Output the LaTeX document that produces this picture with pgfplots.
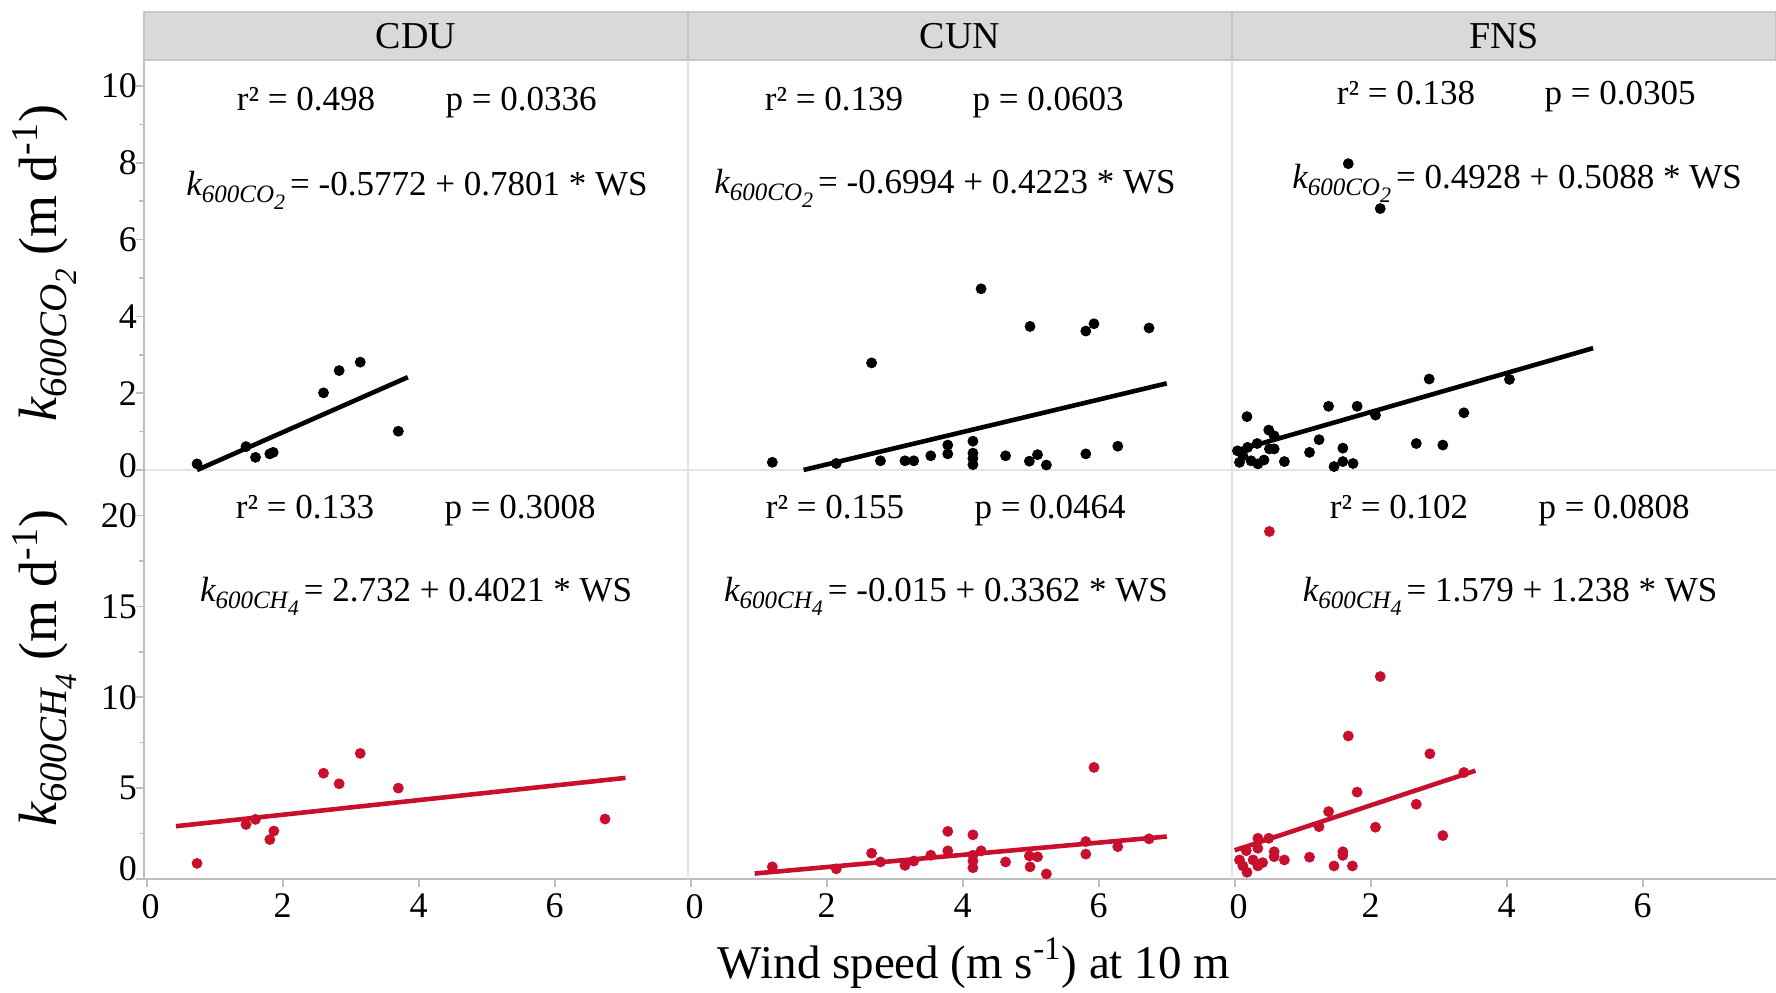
\documentclass[border=0pt]{standalone}
\usepackage{fontspec}
\setmainfont{Liberation Serif}
\usepackage{pgfplots}
\pgfplotsset{compat=1.18}

\definecolor{ptred}{RGB}{200,16,46}
\definecolor{stripfill}{RGB}{217,217,217}
\definecolor{stripedge}{RGB}{198,198,198}
\definecolor{sepgray}{RGB}{228,228,228}
\definecolor{axgray}{RGB}{190,190,190}

\newcommand{\fs}[1]{\fontsize{#1}{#1}\selectfont}
% italic k with a two-level subscript
\newcommand{\kname}[7]{{\fs{#1}\itshape k}\raisebox{-#4}{\fs{#2}\itshape #6}\raisebox{-#5}{\fs{#3}\itshape #7}}
\newcommand{\keq}[2]{\kname{17.5}{12.5}{11}{3.5pt}{7pt}{#1}{#2}}
\newcommand{\klab}[2]{\kname{27}{19.5}{15.5}{5pt}{10pt}{#1}{#2}}

\pgfplotsset{
  panel/.style={
    scale only axis, width=272pt,
    xmin=-0.04, xmax=7.96,
    axis x line*=bottom, axis y line*=left,
    axis line style={draw=sepgray, line width=1pt},
    tick align=outside,
    major tick length=4pt, minor tick length=2.5pt,
    tick style={draw=axgray, line width=0.8pt},
    ticklabel style={font=\fs{18}},
    yticklabel style={xshift=4pt},
    /pgf/number format/assume math mode=true,
    xtick=\empty, ytick=\empty,
    clip=false,
  },
  toprow/.style={height=205pt, ymin=0, ymax=10.68},
  botrow/.style={height=204.5pt, ymin=0, ymax=22.5,
    xtick={2,4,6}, extra x ticks={0},
    extra x tick style={xticklabel style={xshift=2pt}},
    x axis line style={draw=axgray}},
  firsttop/.style={ytick={2,4,6,8,10}, minor ytick={1,3,5,7,9},
    extra y ticks={0}, extra y tick style={yticklabel style={yshift=2pt}},
    y axis line style={draw=axgray}},
  firstbot/.style={ytick={5,10,15,20}, minor ytick={2.5,7.5,12.5,17.5},
    extra y ticks={0}, extra y tick style={yticklabel style={yshift=5pt}},
    y axis line style={draw=axgray}},
  co2/.style={only marks, mark=*, mark size=2.5pt, color=black},
  ch4/.style={only marks, mark=*, mark size=2.5pt, color=ptred},
  co2fit/.style={black, line width=2.3pt, no marks},
  ch4fit/.style={ptred, line width=2.3pt, no marks},
}

\begin{document}
\begin{tikzpicture}
\useasboundingbox (0pt,0pt) rectangle (888pt,-496pt);

% ---------- CO2, top row ----------
\begin{axis}[panel, toprow, firsttop, at={(72pt,-30pt)}, anchor=north west]
\addplot[co2] coordinates {(0.74,0.16) (1.46,0.61) (1.60,0.33) (1.81,0.42) (1.86,0.46)
  (2.60,2.01) (2.83,2.59) (3.14,2.81) (3.70,1.01)};
\addplot[co2fit] coordinates {(0.74,0.0) (3.84,2.418)};
\end{axis}

\begin{axis}[panel, toprow, at={(344pt,-30pt)}, anchor=north west]
\addplot[co2] coordinates {(1.20,0.20) (2.14,0.17) (2.66,2.79) (2.79,0.24) (3.15,0.24)
  (3.28,0.24) (3.53,0.37) (3.78,0.65) (3.78,0.42) (4.15,0.75) (4.15,0.44) (4.15,0.30)
  (4.15,0.14) (4.27,4.72) (4.63,0.37) (4.99,3.74) (4.98,0.23) (5.10,0.40) (5.23,0.13)
  (5.81,3.62) (5.93,3.81) (5.81,0.42) (6.28,0.62) (6.74,3.70)};
\addplot[co2fit] coordinates {(1.66,0.0016) (7.0,2.257)};
\end{axis}

\begin{axis}[panel, toprow, at={(616pt,-30pt)}, anchor=north west]
\addplot[co2] coordinates {(0.18,1.39) (0.50,1.04) (0.58,0.89) (0.33,0.69) (0.19,0.59)
  (0.04,0.50) (0.12,0.37) (0.07,0.20) (0.24,0.24) (0.34,0.16) (0.43,0.26) (0.51,0.55)
  (0.58,0.55) (0.73,0.22) (1.10,0.46) (1.24,0.79) (1.38,1.66) (1.46,0.09) (1.59,0.57)
  (1.59,0.22) (1.74,0.17) (1.80,1.66) (2.07,1.43) (2.67,0.69) (2.86,2.37) (3.06,0.65)
  (3.37,1.49) (1.67,7.98) (2.14,6.81) (4.04,2.36)};
\addplot[co2fit] coordinates {(0,0.4928) (5.27,3.174)};
\end{axis}

% ---------- CH4, bottom row ----------
\begin{axis}[panel, botrow, firstbot, at={(72pt,-235pt)}, anchor=north west]
\addplot[ch4] coordinates {(0.74,0.86) (1.46,3.00) (1.60,3.28) (1.81,2.17) (1.87,2.64)
  (2.60,5.82) (2.83,5.24) (3.14,6.91) (3.70,5.00) (6.74,3.30)};
\addplot[ch4fit] coordinates {(0.43,2.905) (7.04,5.563)};
\end{axis}

\begin{axis}[panel, botrow, at={(344pt,-235pt)}, anchor=north west]
\addplot[ch4] coordinates {(1.20,0.67) (2.14,0.56) (2.66,1.42) (2.79,0.94) (3.15,0.75)
  (3.28,0.99) (3.53,1.31) (3.78,2.62) (3.78,1.55) (4.15,2.43) (4.15,1.31) (4.15,0.99)
  (4.15,0.62) (4.27,1.55) (4.63,0.94) (4.98,1.27) (4.99,0.67) (5.10,1.22) (5.23,0.28)
  (5.81,2.06) (5.93,6.14) (5.81,1.37) (6.28,1.78) (6.74,2.21)};
\addplot[ch4fit] coordinates {(0.94,0.301) (7.0,2.338)};
\end{axis}

\begin{axis}[panel, botrow, at={(616pt,-235pt)}, anchor=north west]
\addplot[ch4] coordinates {(3.37,5.86) (1.80,4.78) (2.67,4.11) (1.38,3.71) (1.24,2.88)
  (2.07,2.85) (3.06,2.39) (0.50,2.24) (0.34,2.24) (0.34,1.69) (0.17,1.56) (0.58,1.50)
  (0.58,1.23) (1.59,1.50) (1.59,1.30) (1.10,1.20) (0.73,1.05) (0.07,1.05) (0.27,1.05)
  (0.41,0.90) (0.34,0.72) (0.12,0.72) (0.18,0.37) (1.46,0.72) (1.73,0.72)
  (0.51,19.12) (2.14,11.14) (1.67,7.87) (2.87,6.89)};
\addplot[ch4fit] coordinates {(0,1.579) (3.54,5.961)};
\end{axis}

\begin{scope}[x=0.5pt, y=-0.5pt]
% facet strips
\foreach \xa/\xb/\name in {144/688/CDU, 688/1232/CUN, 1232/1776/FNS}{
  \draw[fill=stripfill, draw=stripedge, line width=0.8pt] (\xa,12) rectangle (\xb,60);
  \node[anchor=base, font=\fs{19}, inner sep=0pt] at ({(\xa+\xb)/2},48) {\name};
}

% statistics and fitted equations
\begin{scope}[every node/.style={anchor=base, inner sep=0pt, font=\fs{17.5}}]
\node at (306,110) {r² = 0.498};
\node at (521,110) {p = 0.0336};
\node at (417,195) {\keq{600CO}{2}\kern2.5pt= -0.5772 + 0.7801 * WS};
\node at (834,110) {r² = 0.139};
\node at (1048,110) {p = 0.0603};
\node at (945,193) {\keq{600CO}{2}\kern2.5pt= -0.6994 + 0.4223 * WS};
\node at (1406,104) {r² = 0.138};
\node at (1620,104) {p = 0.0305};
\node at (1517,188) {\keq{600CO}{2}\kern2.5pt= 0.4928 + 0.5088 * WS};
\node at (305,518) {r² = 0.133};
\node at (520,518) {p = 0.3008};
\node at (416,601) {\keq{600CH}{4}\kern2.5pt= 2.732 + 0.4021 * WS};
\node at (835,518) {r² = 0.155};
\node at (1050,518) {p = 0.0464};
\node at (946,601) {\keq{600CH}{4}\kern2.5pt= -0.015 + 0.3362 * WS};
\node at (1399,518) {r² = 0.102};
\node at (1614,518) {p = 0.0808};
\node at (1510,601) {\keq{600CH}{4}\kern2.5pt= 1.579 + 1.238 * WS};
\end{scope}

% axis titles
\node[rotate=90, anchor=base, inner sep=0pt, font=\fs{27}] at (56,263)
  {\klab{600CO}{2} (m d\textsuperscript{-1})};
\node[rotate=90, anchor=base, inner sep=0pt, font=\fs{27}] at (56,668)
  {\klab{600CH}{4} (m d\textsuperscript{-1})};
\node[anchor=base, inner sep=0pt, font=\fs{23.5}] at (974,978)
  {Wind speed (m s\textsuperscript{-1}) at 10 m};
\end{scope}
\end{tikzpicture}
\end{document}
